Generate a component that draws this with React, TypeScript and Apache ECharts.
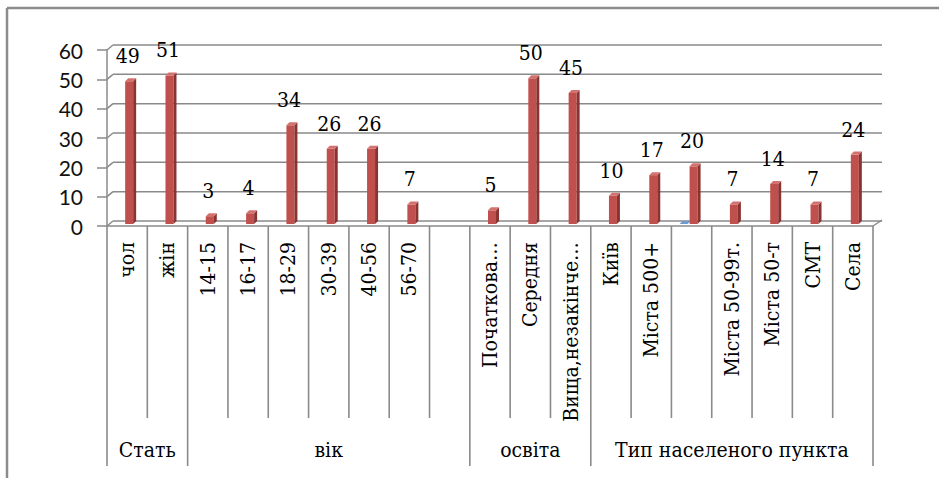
import React, { useEffect, useRef } from "react";
import * as echarts from "echarts";

const categories = [
  "чол", "жін",
  "14-15", "16-17", "18-29", "30-39", "40-56", "56-70", "",
  "Початкова…", "Середня", "Вища,незакінче…",
  "Київ", "Міста 500+", "", "Міста 50-99т.", "Міста 50-т", "СМТ", "Села",
];
const values: (number | null)[] = [
  49, 51,
  3, 4, 34, 26, 26, 7, null,
  5, 50, 45,
  10, 17, 20, 7, 14, 7, 24,
];
const blueValues: (number | null)[] = [
  null, null,
  null, null, null, null, null, null, null,
  null, null, null,
  null, null, 0.3, null, null, null, null,
];
const groupNames = ["Стать", "вік", "освіта", "Тип населеного пункта"];
const groupSizes = [2, 7, 3, 7];
const yTicks = [0, 10, 20, 30, 40, 50, 60];

const GRID_COLOR = "#8a8a8a";
const SERIF = "DejaVu Serif Condensed, DejaVu Serif";

export default function App() {
  const ref = useRef<HTMLDivElement>(null);
  useEffect(() => {
    if (!ref.current) return;
    const chart = echarts.init(ref.current, null, { renderer: "svg" });

    const decoRender = (params: any, api: any) => {
      const w = api.size([1, 0])[0];
      const base = api.coord([0, 0]);
      const y0 = base[1];
      const xL = base[0] - w / 2;
      const n = categories.length;
      const xR = xL + n * w;
      const dx = 6, dy = 5;
      const children: any[] = [];
      const ln = (x1: number, y1: number, x2: number, y2: number, lw = 1.5) => ({
        type: "line",
        shape: { x1, y1, x2, y2 },
        style: { stroke: GRID_COLOR, lineWidth: lw },
        silent: true,
      });
      yTicks.forEach((t) => {
        const yt = api.coord([0, t])[1];
        children.push(ln(xL, yt, xL + dx, yt - dy));
        children.push(ln(xL + dx, yt - dy, xR + 9, yt - dy));
      });
      children.push(ln(xL, y0, xR, y0));
      children.push(ln(xR, y0, xR + 9, y0 - 6));
      const bounds = new Set<number>();
      let acc = 0;
      bounds.add(0);
      groupSizes.forEach((s) => { acc += s; bounds.add(acc); });
      for (let i = 0; i <= n; i++) {
        const x = xL + i * w;
        const long = bounds.has(i);
        children.push(ln(x, y0, x, y0 + (long ? 240 : 192), 1.6));
      }
      let start = 0;
      groupNames.forEach((g, gi) => {
        const cx = xL + (start + groupSizes[gi] / 2) * w;
        children.push({
          type: "text",
          silent: true,
          style: {
            text: g, x: cx, y: y0 + 224, fill: "#000",
            fontSize: 21, fontFamily: SERIF, align: "center", verticalAlign: "middle",
          },
        });
        start += groupSizes[gi];
      });
      return { type: "group", children };
    };

    const makeBarRender = (front: string, side: string, top: string, offset: number, withLabel: boolean) =>
      (params: any, api: any) => {
        const v = api.value(1);
        if (v === null || v === undefined || isNaN(v)) return null;
        const pTop = api.coord([api.value(0), v]);
        const pBase = api.coord([api.value(0), 0]);
        const cx = pTop[0] + offset;
        const yT = pTop[1] - 1;
        const yB = pBase[1] - 2;
        const children: any[] = [
          { type: "rect", shape: { x: cx - 2, y: yT, width: 8, height: Math.max(0, yB - yT) }, style: { fill: front } },
          { type: "polygon", shape: { points: [[cx + 6, yT], [cx + 9, yT - 3], [cx + 9, yB - 3], [cx + 6, yB]] }, style: { fill: side } },
          { type: "polygon", shape: { points: [[cx - 2, yT], [cx + 6, yT], [cx + 9, yT - 3], [cx + 1, yT - 3]] }, style: { fill: top } },
        ];
        if (withLabel) {
          children.push({
            type: "text",
            style: {
              text: String(v), x: pTop[0] + 0.5, y: pTop[1] - 26, fill: "#000",
              fontSize: 21, fontFamily: SERIF, align: "center", verticalAlign: "middle",
            },
          });
        }
        return { type: "group", children };
      };

    chart.setOption({
      animation: false,
      backgroundColor: "#ffffff",
      grid: { left: 107, right: 66, top: 50, bottom: 252, containLabel: false },
      xAxis: {
        type: "category",
        data: categories,
        axisLine: { show: false },
        axisTick: { show: false },
        axisLabel: {
          interval: 0, rotate: 90, margin: 16, color: "#000",
          fontSize: 21, fontFamily: SERIF,
        },
        splitLine: { show: false },
      },
      yAxis: {
        type: "value",
        min: 0, max: 60, interval: 10,
        axisLine: { show: true, lineStyle: { color: GRID_COLOR, width: 1.5 } },
        axisTick: { show: true, length: 10, lineStyle: { color: GRID_COLOR, width: 1.5 } },
        axisLabel: { margin: 24, color: "#111", fontSize: 21, fontFamily: "Lato" },
        splitLine: { show: false },
      },
      graphic: [
        { type: "line", shape: { x1: 7, y1: 8, x2: 939, y2: 8 }, style: { stroke: "#8c8c8c", lineWidth: 2.5 } },
        { type: "line", shape: { x1: 7, y1: 8, x2: 7, y2: 478 }, style: { stroke: "#8c8c8c", lineWidth: 2.5 } },
      ],
      series: [
        {
          type: "custom",
          name: "deco",
          renderItem: decoRender,
          data: [[0, 0]],
          clip: false,
          silent: true,
          z: 1,
        },
        {
          type: "custom",
          name: "blue",
          renderItem: makeBarRender("#4f81bd", "#385d8a", "#6f9bd1", -10, false),
          data: blueValues.map((v, i) => [i, v]),
          clip: false,
          z: 2,
        },
        {
          type: "custom",
          name: "values",
          renderItem: makeBarRender("#c0504d", "#8a3432", "#d2716e", 0, true),
          data: values.map((v, i) => [i, v]),
          clip: false,
          z: 3,
        },
      ],
    });
    return () => chart.dispose();
  }, []);
  return (
    <div
      ref={ref}
      style={{ position: "absolute", left: 0, top: 0, width: 939, height: 478, background: "#fff" }}
    />
  );
}
